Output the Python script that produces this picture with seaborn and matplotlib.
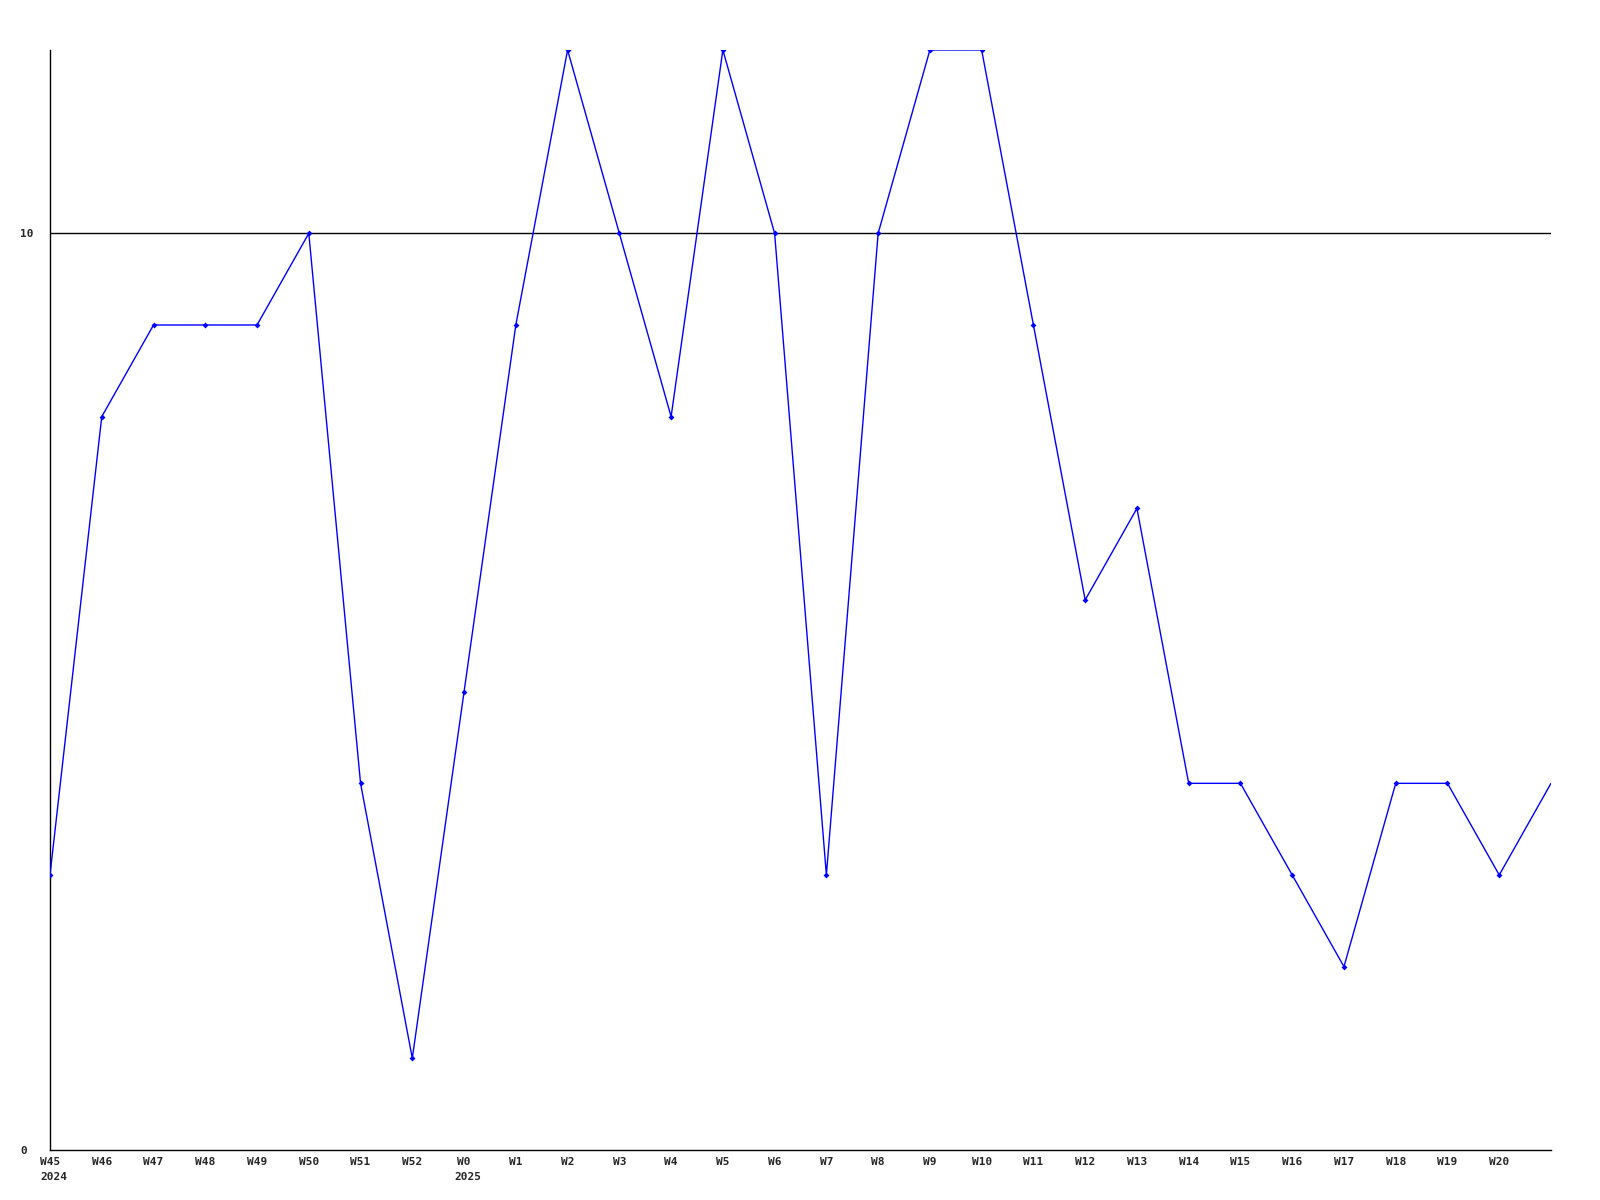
import pandas as pd
import matplotlib.pyplot as plt
import matplotlib.transforms as mtrans
import seaborn as sns

# Weekly values, W45 2024 .. W21 2025
weeks = ["W45", "W46", "W47", "W48", "W49", "W50", "W51", "W52", "W0",
         "W1", "W2", "W3", "W4", "W5", "W6", "W7", "W8", "W9", "W10",
         "W11", "W12", "W13", "W14", "W15", "W16", "W17", "W18", "W19", "W20", "W21"]
years = {"W45": "2024", "W0": "2025"}
values = [3, 8, 9, 9, 9, 10, 4, 1, 5,
          9, 12, 10, 8, 12, 10, 3, 10, 12, 12,
          9, 6, 7, 4, 4, 3, 2, 4, 4, 3, 4]

data = pd.DataFrame({"idx": range(len(weeks)), "value": values})

sns.set_style("white")
plt.rcParams["font.family"] = ["DejaVu Sans Mono"]

fig = plt.figure(figsize=(16, 12), dpi=100)
ax = fig.add_axes([50 / 1600, 50 / 1200, 1501 / 1600, 1100 / 1200])

ax.axhline(10, color="black", linewidth=1, zorder=1)

sns.lineplot(data=data, x="idx", y="value", ax=ax, color="#0000ff",
             linewidth=1, marker="D", markersize=3, markeredgewidth=0,
             markevery=slice(0, len(weeks) - 1), zorder=3)

ax.set_xlim(0, len(weeks) - 1)
ax.set_ylim(0, 12)

# x labels: all weeks except the last
tick_pos = list(range(len(weeks) - 1))
ax.set_xticks(tick_pos)
ax.set_xticklabels(weeks[:-1], fontsize=8, fontweight="bold", ha="center")

# year under the first week of each year, left aligned with the week label
trans = mtrans.blended_transform_factory(ax.transData, ax.transAxes)
shift = mtrans.ScaledTranslation(-10 / 100, -22 / 100, fig.dpi_scale_trans)
for i, w in enumerate(weeks):
    if w in years:
        ax.text(i, 0, years[w], transform=trans + shift, ha="left", va="top",
                fontsize=8, fontweight="bold")

ax.set_yticks([0, 10])
ax.set_yticklabels(["0", "10"], fontsize=8, fontweight="bold", ha="left")
ax.tick_params(axis="both", length=0)
ax.tick_params(axis="y", pad=21.5)
ax.tick_params(axis="x", pad=5)

ax.set_xlabel("")
ax.set_ylabel("")
sns.despine(ax=ax, top=True, right=True)
for side in ["left", "bottom"]:
    ax.spines[side].set_color("black")
    ax.spines[side].set_linewidth(1)

fig.savefig("out.png", dpi=100)
